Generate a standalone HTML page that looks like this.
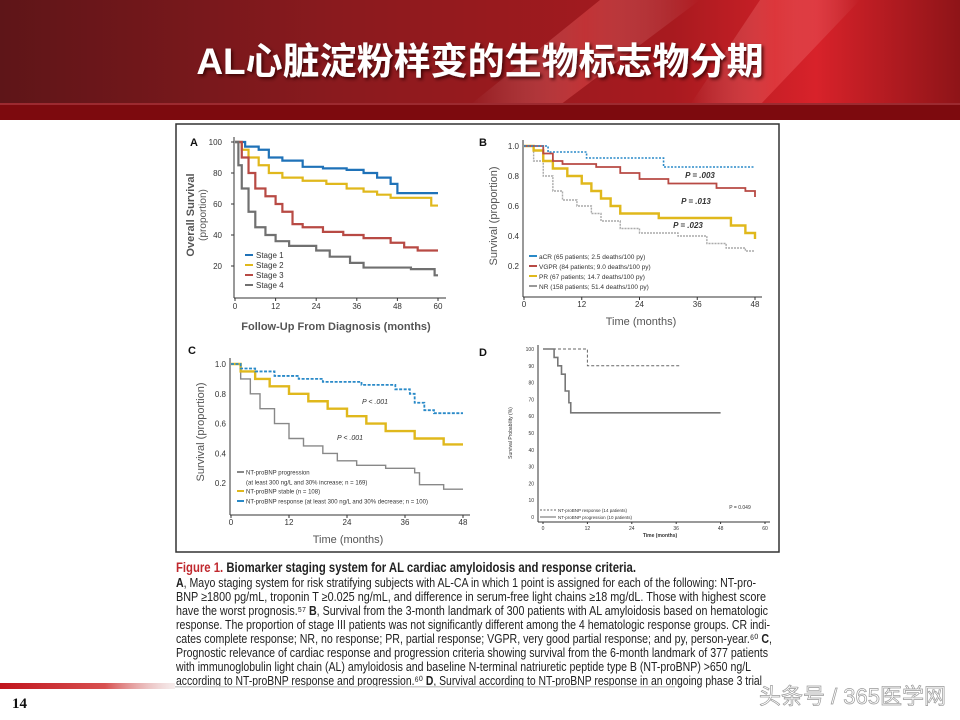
<!DOCTYPE html>
<html><head><meta charset="utf-8"><style>
body{margin:0;width:960px;height:720px;overflow:hidden;background:#fff;font-family:"Liberation Sans","Noto Sans CJK SC",sans-serif}
svg{display:block}
</style></head><body>
<svg width="960" height="720" viewBox="0 0 960 720" xmlns="http://www.w3.org/2000/svg" id="root">
<defs>
<linearGradient id="hdr" x1="0" y1="0" x2="1" y2="0">
<stop offset="0" stop-color="#5e1518"/><stop offset="0.35" stop-color="#8a1a1e"/><stop offset="0.7" stop-color="#a81a1f"/><stop offset="0.85" stop-color="#d8222a"/><stop offset="1" stop-color="#8e1418"/>
</linearGradient>
<linearGradient id="streak" x1="0" y1="0" x2="1" y2="0">
<stop offset="0" stop-color="#fff" stop-opacity="0"/><stop offset="0.5" stop-color="#ff6060" stop-opacity="0.35"/><stop offset="1" stop-color="#fff" stop-opacity="0"/>
</linearGradient>
<linearGradient id="redbar" x1="0" y1="0" x2="1" y2="0">
<stop offset="0" stop-color="#c0141c"/><stop offset="0.6" stop-color="#d85050"/><stop offset="1" stop-color="#e0c0c0" stop-opacity="0.3"/>
</linearGradient>
<filter id="sh"><feDropShadow dx="2" dy="2" stdDeviation="1.5" flood-color="#300" flood-opacity="0.8"/></filter>
</defs>
<g>
<rect x="0" y="0" width="960" height="120" fill="url(#hdr)"/>
<polygon points="600,0 700,0 560,105 470,105" fill="url(#streak)"/>
<polygon points="760,0 860,0 760,105 690,105" fill="url(#streak)"/>
<rect x="0" y="103" width="960" height="17" fill="#7d0a0e"/>
<rect x="0" y="103" width="960" height="2" fill="#b04048" opacity="0.6"/>
<text x="480" y="74" text-anchor="middle" font-size="37" font-weight="bold" fill="#fff" filter="url(#sh)">AL心脏淀粉样变的生物标志物分期</text>
</g>
<rect x="176" y="124" width="603" height="428" fill="none" stroke="#333" stroke-width="1.5"/>
<g id="charts"></g>
<g font-family="'Liberation Sans Narrow','Liberation Sans',sans-serif" font-size="12.5" fill="#222">
<text x="176" y="572" font-size="13.5" font-weight="bold" textLength="460" lengthAdjust="spacingAndGlyphs"><tspan fill="#c0282e">Figure 1.</tspan> Biomarker staging system for AL cardiac amyloidosis and response criteria.</text>
<text x="176" y="587" textLength="580" lengthAdjust="spacingAndGlyphs"><tspan font-weight="bold">A</tspan>, Mayo staging system for risk stratifying subjects with AL-CA in which 1 point is assigned for each of the following: NT-pro-</text>
<text x="176" y="601" textLength="590" lengthAdjust="spacingAndGlyphs">BNP ≥1800 pg/mL, troponin T ≥0.025 ng/mL, and difference in serum-free light chains ≥18 mg/dL. Those with highest score</text>
<text x="176" y="615" textLength="592" lengthAdjust="spacingAndGlyphs">have the worst prognosis.⁵⁷ <tspan font-weight="bold">B</tspan>, Survival from the 3-month landmark of 300 patients with AL amyloidosis based on hematologic</text>
<text x="176" y="629" textLength="594" lengthAdjust="spacingAndGlyphs">response. The proportion of stage III patients was not significantly different among the 4 hematologic response groups. CR indi-</text>
<text x="176" y="643" textLength="596" lengthAdjust="spacingAndGlyphs">cates complete response; NR, no response; PR, partial response; VGPR, very good partial response; and py, person-year.⁶⁰ <tspan font-weight="bold">C</tspan>,</text>
<text x="176" y="657" textLength="592" lengthAdjust="spacingAndGlyphs">Prognostic relevance of cardiac response and progression criteria showing survival from the 6-month landmark of 377 patients</text>
<text x="176" y="671" textLength="575" lengthAdjust="spacingAndGlyphs">with immunoglobulin light chain (AL) amyloidosis and baseline N-terminal natriuretic peptide type B (NT-proBNP) &gt;650 ng/L</text>
<text x="176" y="685" textLength="586" lengthAdjust="spacingAndGlyphs">according to NT-proBNP response and progression.⁶⁰ <tspan font-weight="bold">D</tspan>, Survival according to NT-proBNP response in an ongoing phase 3 trial</text>
</g>
<rect x="0" y="689" width="960" height="31" fill="#fff"/>
<rect x="0" y="683" width="175" height="6" fill="url(#redbar)"/>
<rect x="175" y="686" width="500" height="1.5" fill="#ccc"/>
<text x="12" y="708" font-family="'Liberation Serif',serif" font-weight="bold" font-size="15" fill="#111">14</text>
<text x="946" y="704" text-anchor="end" font-size="22" fill="#fff" stroke="#999" stroke-width="0.7">头条号 / 365医学网</text>
</svg>
<script>
// Panel A data (months, % survival)
const aT1=[0,3,7,10,14,20,26,33,38,42,46,48,60], aS1=[100,97,95,90,88,84,83,82,80,77,73,67,67];
const aT2=[0,2,4,7,10,14,20,27,33,38,42,46,58,60], aS2=[100,95,90,85,80,77,75,73,70,68,66,64,59,59];
const aT3=[0,2,4,6,9,12,14,17,20,26,32,38,46,50,54,60], aS3=[100,90,80,70,65,60,55,47,45,42,40,38,35,32,30,30];
const aT4=[0,1,2,4,6,9,12,16,24,28,34,38,52,59,60], aS4=[100,85,70,55,45,40,36,33,30,26,22,19,18,14,14];
// Panel B
const bT1=[0,5,13,17,29,48], bS1=[1,0.96,0.92,0.92,0.86,0.86];
const bT2=[0,4,6,8,15,20,24,30,40,46,48], bS2=[1,0.95,0.9,0.88,0.86,0.82,0.78,0.75,0.72,0.7,0.66];
const bT3=[0,2,4,6,9,12,14,16,18,20,28,43,46,48], bS3=[1,0.97,0.9,0.85,0.8,0.75,0.7,0.65,0.6,0.55,0.52,0.47,0.42,0.38];
const bT4=[0,2,4,6,8,11,14,16,20,24,32,38,42,46,48], bS4=[1,0.9,0.8,0.7,0.64,0.6,0.55,0.5,0.45,0.42,0.4,0.35,0.32,0.3,0.3];
// Panel C
const cT1=[0,2,5,9,14,19,27,34,37,38,40,42,48], cS1=[1,0.97,0.95,0.92,0.9,0.88,0.86,0.83,0.8,0.74,0.69,0.67,0.67];
const cT2=[0,2,5,8,12,16,20,24,28,32,38,44,48], cS2=[1,0.95,0.9,0.85,0.8,0.75,0.7,0.65,0.6,0.55,0.5,0.46,0.46];
const cT3=[0,2,4,6,9,12,15,19,22,26,32,38,39,44,48], cS3=[1,0.9,0.8,0.7,0.6,0.5,0.45,0.4,0.35,0.32,0.3,0.27,0.19,0.16,0.16];
// Panel D
const dT1=[0,12,37], dS1=[100,90,90];
const dT2=[0,3,4,5,6,7,7.5,48], dS2=[100,95,90,85,75,68,62,62];
const ticksA=[0,12,24,36,48,60], yTicksA=[20,40,60,80,100];
const ticksB=[0,12,24,36,48], yTicksB=[0.2,0.4,0.6,0.8,1.0];
const yTicksD=[0,10,20,30,40,50,60,70,80,90,100];
const NS="http://www.w3.org/2000/svg";
const root=document.getElementById('charts');
function mk(tag,attrs,parent){const e=document.createElementNS(NS,tag);for(const k in attrs)e.setAttribute(k,attrs[k]);(parent||root).appendChild(e);return e;}
function txt(x,y,s,size,anchor,parent,extra){const e=mk('text',Object.assign({x:x,y:y,'font-size':size,'text-anchor':anchor||'start',fill:'#333'},extra||{}),parent);e.textContent=s;return e;}
function panel(name,x0,x1,xmax,y0,ymaxPx,ymaxVal){
  const g=mk('g',{});
  
  
  return {g:g,sx:v=>x0+(x1-x0)*v/xmax,sy:v=>y0-(y0-ymaxPx)*v/ymaxVal};
}
function step(p,ts,ss,color,w,dash,name){
  let d='M'+p.sx(ts[0])+','+p.sy(ss[0]);
  for(let i=1;i<ts.length;i++){d+=' H'+p.sx(ts[i])+' V'+p.sy(ss[i]);}
  const e=mk('path',{d:d,fill:'none',stroke:color,'stroke-width':w,'stroke-dasharray':dash||'none'},p.g);
  
  
}
function axes(p,xa0,xa1,ya0,ya1,axisY,axisX){
  mk('line',{x1:axisX,y1:ya0,x2:axisX,y2:axisY,stroke:'#333','stroke-width':1},p.g);
  mk('line',{x1:axisX,y1:axisY,x2:xa1,y2:axisY,stroke:'#333','stroke-width':1},p.g);
}
// Panel A
let A=panel('panel-a-chart',235,438,60,297,142,100);
axes(A,0,446,137,0,298,234);
txt(190,146,'A',11,'start',A.g,{'font-weight':'bold',fill:'#111'});
yTicksA.forEach(v=>{const t=txt(222,A.sy(v)+3,String(v),8,'end',A.g);mk('line',{x1:231,x2:234,y1:A.sy(v),y2:A.sy(v),stroke:'#333'},A.g);});
ticksA.forEach(v=>{const t=txt(A.sx(v),309,String(v),8,'middle',A.g);mk('line',{x1:A.sx(v),x2:A.sx(v),y1:298,y2:301,stroke:'#333'},A.g);});
txt(336,330,'Follow-Up From Diagnosis (months)',11,'middle',A.g,{'font-weight':'bold',fill:'#555'});
txt(0,0,'Overall Survival',11,'middle',A.g,{transform:'translate(194,215) rotate(-90)','font-weight':'bold',fill:'#555'});
txt(0,0,'(proportion)',10,'middle',A.g,{transform:'translate(206,215) rotate(-90)',fill:'#555'});
step(A,aT2,aS2,'#e0b81c',2.2,null,'stage-2-line');
step(A,aT1,aS1,'#1f72b8',2.2,null,'stage-1-line');
step(A,aT3,aS3,'#b84a44',2.2,null,'stage-3-line');
step(A,aT4,aS4,'#707070',2.2,null,'stage-4-line');
[['Stage 1','#1f72b8'],['Stage 2','#e0b81c'],['Stage 3','#b84a44'],['Stage 4','#707070']].forEach((s,i)=>{const y=255+i*10;mk('line',{x1:245,x2:253,y1:y,y2:y,stroke:s[1],'stroke-width':2},A.g);const t=txt(256,y+3,s[0],8,'start',A.g);});
// Panel B
let B=panel('panel-b-chart',524,755,48,296,146,1);
axes(B,0,762,140,0,297,523);
txt(479,146,'B',11,'start',B.g,{'font-weight':'bold',fill:'#111'});
yTicksB.forEach(v=>{txt(519,B.sy(v)+3,v.toFixed(1),8,'end',B.g);});
ticksB.forEach(v=>{txt(B.sx(v),307,String(v),8,'middle',B.g);mk('line',{x1:B.sx(v),x2:B.sx(v),y1:297,y2:300,stroke:'#333'},B.g);});
txt(641,325,'Time (months)',11,'middle',B.g,{fill:'#555'});
txt(0,0,'Survival (proportion)',11,'middle',B.g,{transform:'translate(497,216) rotate(-90)',fill:'#555'});
step(B,bT4,bS4,'#aaaaaa',1.4,'2,1','nr-line');
step(B,bT3,bS3,'#e0b81c',2.4,null,'pr-line');
step(B,bT2,bS2,'#b84a44',1.8,null,'vgpr-line');
step(B,bT1,bS1,'#2a8ac8',1.6,'2,1.5','acr-line');
txt(700,178,'P = .003',8,'middle',B.g,{'font-style':'italic','font-weight':'bold'});
txt(696,204,'P = .013',8,'middle',B.g,{'font-style':'italic','font-weight':'bold'});
txt(688,228,'P = .023',8,'middle',B.g,{'font-style':'italic','font-weight':'bold'});
[['aCR (65 patients; 2.5 deaths/100 py)','#2a8ac8'],['VGPR (84 patients; 9.0 deaths/100 py)','#b84a44'],['PR (67 patients; 14.7 deaths/100 py)','#e0b81c'],['NR (158 patients; 51.4 deaths/100 py)','#999']].forEach((s,i)=>{const y=256+i*10;mk('line',{x1:529,x2:537,y1:y,y2:y,stroke:s[1],'stroke-width':2},B.g);txt(539,y+3,s[0],6.5,'start',B.g);});
// Panel C
let C=panel('panel-c-chart',231,463,48,513,364,1);
axes(C,0,470,358,0,515,230);
txt(188,354,'C',11,'start',C.g,{'font-weight':'bold',fill:'#111'});
yTicksB.forEach(v=>{txt(226,C.sy(v)+3,v.toFixed(1),8,'end',C.g);});
ticksB.forEach(v=>{txt(C.sx(v),525,String(v),8,'middle',C.g);mk('line',{x1:C.sx(v),x2:C.sx(v),y1:515,y2:518,stroke:'#333'},C.g);});
txt(348,543,'Time (months)',11,'middle',C.g,{fill:'#555'});
txt(0,0,'Survival (proportion)',11,'middle',C.g,{transform:'translate(204,432) rotate(-90)',fill:'#555'});
step(C,cT3,cS3,'#888888',1.4,null,'progression-line');
step(C,cT2,cS2,'#e0b81c',2.4,null,'stable-line');
step(C,cT1,cS1,'#2a8ac8',1.8,'3,1.5','response-line');
txt(375,404,'P < .001',7,'middle',C.g,{'font-style':'italic'});
txt(350,440,'P < .001',7,'middle',C.g,{'font-style':'italic'});
[['NT-proBNP progression','#888',472],['NT-proBNP stable (n = 108)','#e0b81c',491],['NT-proBNP response (at least 300 ng/L and 30% decrease; n = 100)','#2a8ac8',501]].forEach(s=>{mk('line',{x1:237,x2:244,y1:s[2],y2:s[2],stroke:s[1],'stroke-width':2},C.g);txt(246,s[2]+2.5,s[0],6,'start',C.g);});
txt(246,484.5,'(at least 300 ng/L and 30% increase; n = 169)',6,'start',C.g);
// Panel D
let D=panel('panel-d-chart',543,765,60,517,349,100);
axes(D,0,770,345,0,522,538);
txt(479,356,'D',11,'start',D.g,{'font-weight':'bold',fill:'#111'});
yTicksD.forEach(v=>{txt(534,D.sy(v)+2,String(v),5,'end',D.g);});
ticksA.forEach(v=>{txt(D.sx(v),530,String(v),5,'middle',D.g);mk('line',{x1:D.sx(v),x2:D.sx(v),y1:522,y2:524,stroke:'#333'},D.g);});
txt(660,537,'Time (months)',5,'middle',D.g,{'font-weight':'bold'});
txt(0,0,'Survival Probability (%)',5,'middle',D.g,{transform:'translate(512,433) rotate(-90)'});
step(D,dT1,dS1,'#666',1,'3,2','d-response-line');
step(D,dT2,dS2,'#777',1.6,null,'d-progression-line');
txt(740,509,'P = 0.049',5,'middle',D.g);
mk('line',{x1:540,x2:556,y1:510,y2:510,stroke:'#666','stroke-dasharray':'2,1.5'},D.g);
txt(558,512,'NT-proBNP response (14 patients)',4.5,'start',D.g);
mk('line',{x1:540,x2:556,y1:517,y2:517,stroke:'#666'},D.g);
txt(558,519,'NT-proBNP progression (10 patients)',4.5,'start',D.g);
</script>
</body></html>
